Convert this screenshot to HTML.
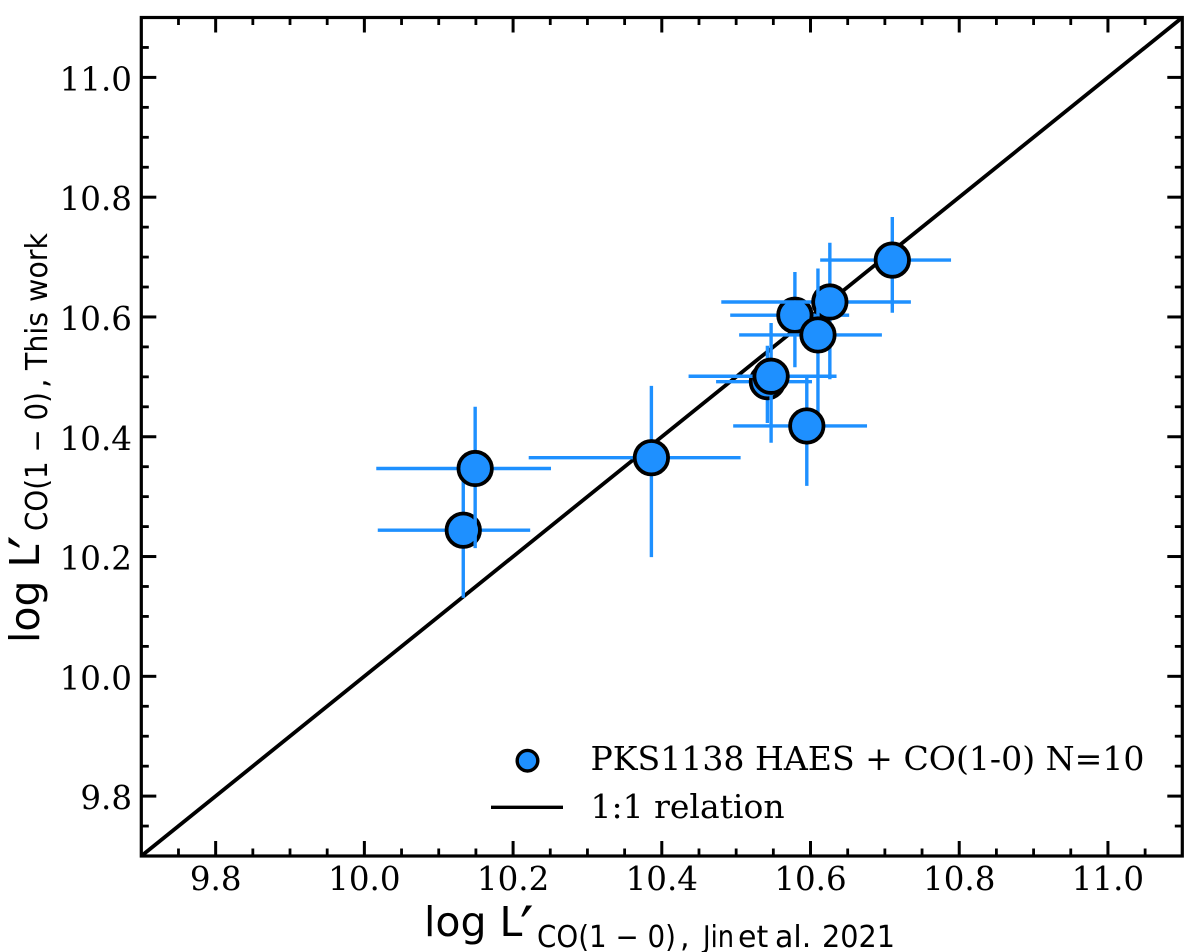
<!DOCTYPE html>
<html lang="en">
<head>
<meta charset="utf-8">
<title>CO luminosity comparison</title>
<style>
html,body{margin:0;padding:0;background:#fff;}
svg{display:block;}
.tick{font-family:"DejaVu Serif","Liberation Serif",serif;font-size:32.5px;fill:#000;}
.legend{font-family:"DejaVu Serif","Liberation Serif",serif;font-size:33px;fill:#000;}
.ax{font-family:"DejaVu Sans","Liberation Sans",sans-serif;fill:#000;}
</style>
</head>
<body>
<svg id="chart" xmlns="http://www.w3.org/2000/svg" width="1200" height="952" viewBox="0 0 1200 952">
  <rect x="0" y="0" width="1200" height="952" fill="#fff"/>
  <g id="marks"></g>
  <g id="axes"></g>
  <g>
    <circle cx="527.5" cy="760.7" r="10.3" fill="#1e90ff" stroke="#000" stroke-width="3.4"/>
    <text class="legend" x="590.5" y="770" textLength="554" lengthAdjust="spacingAndGlyphs">PKS1138 HAES + CO(1-0) N=10</text>
    <line x1="491" y1="807.3" x2="563" y2="807.3" stroke="#000" stroke-width="3.4"/>
    <text class="legend" x="590.5" y="818">1:1 relation</text>
  </g>
  <g>
    <text class="ax" x="424" y="936" font-size="41">log L</text>
    <text class="ax" x="520" y="949" font-size="60">′</text>
    <text class="ax" x="537" y="947" font-size="30" textLength="139" lengthAdjust="spacingAndGlyphs">CO(1 − 0)</text>
    <text class="ax" x="680" y="947" font-size="30">,</text>
    <text class="ax" x="703" y="947" font-size="30" textLength="31" lengthAdjust="spacingAndGlyphs">Jin</text>
    <text class="ax" x="738" y="947" font-size="30">et</text>
    <text class="ax" x="775" y="947" font-size="30">al.</text>
    <text class="ax" x="822" y="947" font-size="30" textLength="73" lengthAdjust="spacingAndGlyphs">2021</text>
  </g>
  <g>
    <text class="ax" transform="translate(39,643) rotate(-90)" x="0" y="0" font-size="41">log L</text>
    <text class="ax" transform="translate(52,549) rotate(-90)" x="0" y="0" font-size="60">′</text>
    <text class="ax" transform="translate(47,531) rotate(-90)" x="0" y="0" font-size="30" textLength="139" lengthAdjust="spacingAndGlyphs">CO(1 − 0)</text>
    <text class="ax" transform="translate(47,388) rotate(-90)" x="0" y="0" font-size="30">,</text>
    <text class="ax" transform="translate(47,370) rotate(-90)" x="0" y="0" font-size="30" textLength="58" lengthAdjust="spacingAndGlyphs">This</text>
    <text class="ax" transform="translate(47,302) rotate(-90)" x="0" y="0" font-size="30" textLength="69" lengthAdjust="spacingAndGlyphs">work</text>
  </g>
</svg>
<script>
var xLimits = [9.7, 11.1];
var yLimits = [9.7, 11.1];
var majorTicks = [9.8, 10.0, 10.2, 10.4, 10.6, 10.8, 11.0];
var tickLabels = ["9.8", "10.0", "10.2", "10.4", "10.6", "10.8", "11.0"];
var minorTicks = [9.75, 9.85, 9.9, 9.95, 10.05, 10.1, 10.15, 10.25, 10.3, 10.35, 10.45, 10.5, 10.55, 10.65, 10.7, 10.75, 10.85, 10.9, 10.95, 11.05];
var relationLine = [9.7, 11.1];

var pointNames = ["a", "b", "c", "j", "d", "e", "f", "g", "h", "i"];
var xValues = [10.133, 10.149, 10.386, 10.710, 10.542, 10.547, 10.579, 10.626, 10.610, 10.595];
var xLow    = [10.018, 10.016, 10.221, 10.613, 10.473, 10.436, 10.492, 10.480, 10.504, 10.496];
var xHigh   = [10.223, 10.251, 10.506, 10.789, 10.602, 10.635, 10.652, 10.735, 10.696, 10.676];
var yValues = [10.244, 10.347, 10.365, 10.695, 10.492, 10.501, 10.603, 10.625, 10.570, 10.418];
var yLow    = [10.131, 10.214, 10.199, 10.607, 10.423, 10.390, 10.516, 10.496, 10.431, 10.318];
var yHigh   = [10.358, 10.450, 10.485, 10.767, 10.552, 10.590, 10.675, 10.724, 10.681, 10.499];

var NS = "http://www.w3.org/2000/svg";
var plotLeft = 141.3, plotRight = 1182.3, plotTop = 17.5, plotBottom = 856;

function sx(v) { return plotLeft + (v - xLimits[0]) / (xLimits[1] - xLimits[0]) * (plotRight - plotLeft); }
function sy(v) { return plotBottom - (v - yLimits[0]) / (yLimits[1] - yLimits[0]) * (plotBottom - plotTop); }

function seg(parent, x1, y1, x2, y2, color, width) {
  var l = document.createElementNS(NS, "line");
  l.setAttribute("x1", x1);
  l.setAttribute("y1", y1);
  l.setAttribute("x2", x2);
  l.setAttribute("y2", y2);
  l.setAttribute("stroke", color);
  l.setAttribute("stroke-width", width);
  parent.appendChild(l);
  return l;
}

var marks = document.getElementById("marks");
var axes = document.getElementById("axes");

var rel = seg(marks, sx(relationLine[0]), sy(relationLine[0]), sx(relationLine[1]), sy(relationLine[1]), "#000", 3.8);



xValues.forEach(function (xv, i) {
  var h = seg(marks, sx(xLow[i]), sy(yValues[i]), sx(xHigh[i]), sy(yValues[i]), "#1e90ff", 3.4);
  
  
  var v = seg(marks, sx(xv), sy(yLow[i]), sx(xv), sy(yHigh[i]), "#1e90ff", 3.4);
  
  
  var c = document.createElementNS(NS, "circle");
  c.setAttribute("cx", sx(xv));
  c.setAttribute("cy", sy(yValues[i]));
  c.setAttribute("r", 16.7);
  c.setAttribute("fill", "#1e90ff");
  c.setAttribute("stroke", "#000");
  c.setAttribute("stroke-width", 3.8);
  
  
  marks.appendChild(c);
});

function addTicks(values, len, width, name) {
  values.forEach(function (t) {
    var b = seg(axes, sx(t), plotBottom, sx(t), plotBottom - len, "#000", width);
    
    
    var u = seg(axes, sx(t), plotTop, sx(t), plotTop + len, "#000", width);
    
    
    var l = seg(axes, plotLeft, sy(t), plotLeft + len, sy(t), "#000", width);
    
    
    var r = seg(axes, plotRight, sy(t), plotRight - len, sy(t), "#000", width);
    
    
  });
}
addTicks(majorTicks, 15, 3, "major-tick");
addTicks(minorTicks, 7.5, 2.8, "minor-tick");

var frame = document.createElementNS(NS, "rect");
frame.setAttribute("x", plotLeft);
frame.setAttribute("y", plotTop);
frame.setAttribute("width", plotRight - plotLeft);
frame.setAttribute("height", plotBottom - plotTop);
frame.setAttribute("fill", "none");
frame.setAttribute("stroke", "#000");
frame.setAttribute("stroke-width", 3.2);


axes.appendChild(frame);

majorTicks.forEach(function (t, i) {
  var tx = document.createElementNS(NS, "text");
  tx.setAttribute("class", "tick");
  tx.setAttribute("x", sx(t));
  tx.setAttribute("y", 890);
  tx.setAttribute("text-anchor", "middle");
  tx.textContent = tickLabels[i];
  
  
  axes.appendChild(tx);
  var ty = document.createElementNS(NS, "text");
  ty.setAttribute("class", "tick");
  ty.setAttribute("x", 132);
  ty.setAttribute("y", sy(t) + 13);
  ty.setAttribute("text-anchor", "end");
  ty.textContent = tickLabels[i];
  
  
  axes.appendChild(ty);
});
</script>
</body>
</html>
